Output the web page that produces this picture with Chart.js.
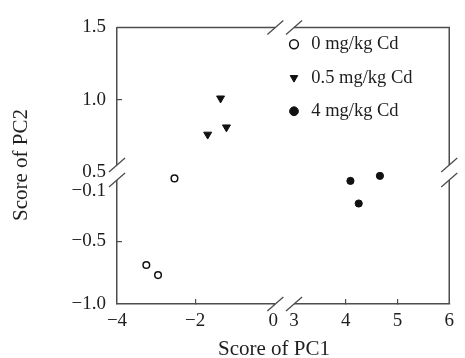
<!DOCTYPE html>
<html>
<head>
<meta charset="utf-8">
<script src="https://cdn.jsdelivr.net/npm/chart.js@4.4.1/dist/chart.umd.min.js"></script>
<style>
  html, body { margin: 0; padding: 0; background: #fff; }
  #wrap { position: relative; width: 465px; height: 358px; }
</style>
</head>
<body>
<div id="wrap"><canvas id="pcaChart"></canvas></div>
<script>
// legend / axis texts
const seriesLabels = ['0 mg/kg Cd', '0.5 mg/kg Cd', '4 mg/kg Cd'];
const xTitle = 'Score of PC1';
const yTitle = 'Score of PC2';

// PC scores
const pc1Cd0 = [-2.53, -3.25, -2.95];
const pc2Cd0 = [0.0, -0.69, -0.77];
const pc1Cd05 = [-1.35, -1.2, -1.68];
const pc2Cd05 = [1.01, 0.81, 0.76];
const pc1Cd4 = [4.09, 4.66, 4.25];
const pc2Cd4 = [-0.02, 0.02, -0.2];

// broken axes : left + right part of PC1, upper + lower part of PC2
const xTicksLeft = [-4, -2, 0];
const xTicksRight = [3, 4, 5, 6];
const yTicksUpper = [0.5, 1.0, 1.5];
const yTicksLower = [-1.0, -0.5, -0.1];

const axisColor = '#4d4d4d';
const textColor = '#1e1e1e';
const serif = '"Liberation Serif", "Times New Roman", serif';

Chart.defaults.font.family = serif;
Chart.defaults.font.size = 18;
Chart.defaults.color = textColor;

const toPoints = (xs, ys) => xs.map((x, i) => ({x: x, y: ys[i]}));

const minusFmt = (v, digits) => (v < 0 ? '\u2212' : '') + Math.abs(v).toFixed(digits);

// no tick mark at the ends of a segment (they sit on the break / corner)
const innerTicksOnly = list => c =>
  (c.tick && (c.tick.value === list[0] || c.tick.value === list[list.length - 1])) ? 'rgba(0,0,0,0)' : axisColor;

function segmentAxis(position, stack, weight, stackWeight, min, max, tickList, digits, pad) {
  return {
    type: 'linear',
    position: position,
    stack: stack,
    weight: weight,
    stackWeight: stackWeight,
    min: min,
    max: max,
    afterBuildTicks: s => { s.ticks = tickList.map(v => ({value: v})); },
    afterFit: s => {
      if (position === 'left') { s.width = 117; } else { s.height = 54; }
    },
    ticks: {
      autoSkip: false,
      maxRotation: 0,
      padding: pad,
      color: textColor,
      font: {size: 19},
      callback: v => minusFmt(v, digits)
    },
    grid: {
      drawOnChartArea: false,
      drawTicks: true,
      tickLength: -5,
      lineWidth: 1.2,
      color: innerTicksOnly(tickList)
    },
    border: {display: true, color: axisColor, width: 1.5}
  };
}

// frame, axis breaks, axis titles, legend placement
const brokenAxes = {
  id: 'brokenAxes',
  afterLayout(chart) {
    const lg = chart.legend;
    if (!lg) return;
    lg.left = 271;
    lg.right = lg.left + lg.width;
    lg.top = 20;
  },
  afterDraw(chart) {
    const {ctx, chartArea: a, scales} = chart;
    ctx.save();
    ctx.strokeStyle = axisColor;
    ctx.lineWidth = 1.5;
    ctx.beginPath();
    ctx.moveTo(a.left, a.top);
    ctx.lineTo(a.right, a.top);
    ctx.lineTo(a.right, a.bottom);
    ctx.stroke();

    const gx1 = scales.xLeft.right + 2;
    const gx2 = scales.xRight.getPixelForValue(3);
    const gy = scales.yUpper.bottom;
    const gy1 = gy - 7, gy2 = gy + 8;
    ctx.fillStyle = '#fff';
    [a.top, a.bottom].forEach(y => ctx.fillRect(gx1, y - 2, gx2 - gx1, 4));
    [a.left, a.right].forEach(x => ctx.fillRect(x - 2, gy1, 4, gy2 - gy1));

    ctx.lineWidth = 1.3;
    const slash = (cx, cy) => {
      ctx.beginPath();
      ctx.moveTo(cx - 8, cy + 7);
      ctx.lineTo(cx + 8, cy - 7);
      ctx.stroke();
    };
    [gx1, gx2].forEach(x => { slash(x, a.top); slash(x, a.bottom); });
    [gy1, gy2].forEach(y => { slash(a.left, y); slash(a.right, y); });

    ctx.fillStyle = textColor;
    ctx.font = '21px ' + serif;
    ctx.textAlign = 'center';
    ctx.textBaseline = 'alphabetic';
    ctx.fillText(xTitle, 274, 355);
    ctx.translate(27, 165);
    ctx.rotate(-Math.PI / 2);
    ctx.fillText(yTitle, 0, 0);
    ctx.restore();
  }
};

const config = {
  type: 'scatter',
  data: {
    datasets: [
      {
        label: seriesLabels[0],
        data: toPoints(pc1Cd0, pc2Cd0),
        xAxisID: 'xLeft', yAxisID: 'yLower',
        pointStyle: 'circle', pointRadius: 3.3,
        backgroundColor: '#fff', borderColor: '#111', borderWidth: 1.5
      },
      {
        label: seriesLabels[1],
        data: toPoints(pc1Cd05, pc2Cd05),
        xAxisID: 'xLeft', yAxisID: 'yUpper',
        pointStyle: 'triangle', pointRotation: 180, pointRadius: 4.6,
        backgroundColor: '#111', borderColor: '#111', borderWidth: 1
      },
      {
        label: seriesLabels[2],
        data: toPoints(pc1Cd4, pc2Cd4),
        xAxisID: 'xRight', yAxisID: 'yLower',
        pointStyle: 'circle', pointRadius: 3.6,
        backgroundColor: '#111', borderColor: '#111', borderWidth: 1
      }
    ]
  },
  options: {
    responsive: true,
    maintainAspectRatio: false,
    animation: false,
    events: [],
    layout: {padding: {top: 23, right: 8, bottom: 0, left: 0}},
    scales: {
      xLeft: segmentAxis('bottom', 'pc1', 1, 160, -4, 0, xTicksLeft, 0, 11),
      xRight: segmentAxis('bottom', 'pc1', 2, 180, 2.6, 6, xTicksRight, 0, 11),
      yUpper: segmentAxis('left', 'pc2', 2, 147, 0.5, 1.5, yTicksUpper, 1, 16),
      yLower: segmentAxis('left', 'pc2', 1, 134, -1.0, 0.05, yTicksLower, 1, 16)
    },
    plugins: {
      title: {display: false},
      tooltip: {enabled: false},
      legend: {
        position: 'chartArea',
        align: 'start',
        labels: {
          usePointStyle: true,
          boxWidth: 16,
          boxHeight: 6.2,
          padding: 15,
          color: textColor,
          font: {size: 18.5}
        }
      }
    }
  },
  plugins: [brokenAxes]
};

new Chart(document.getElementById('pcaChart'), config);
</script>
</body>
</html>
